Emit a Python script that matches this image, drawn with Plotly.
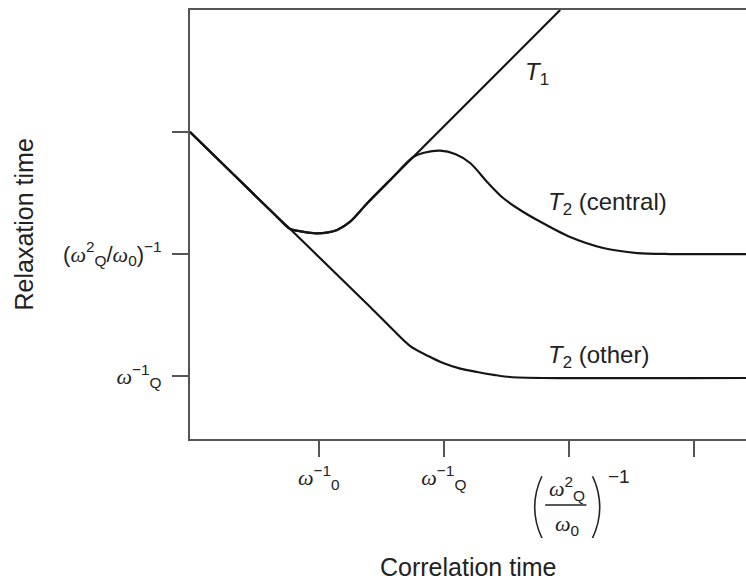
import plotly.graph_objects as go

# Relaxation time vs correlation time (log-log schematic, arbitrary log units)

# descending branch common to all three curves
shared_x = [-0.03, 0.372, 0.651, 0.771]
shared_y = [3.0, 2.598, 2.320, 2.205]

# dip and rise common to T1 and T2 (central)
rise_x = [0.867, 0.979, 1.075, 1.147, 1.251, 1.387, 1.571, 1.755]
rise_y = [2.184, 2.170, 2.178, 2.197, 2.265, 2.416, 2.607, 2.795]

# T1 keeps rising
t1_tail_x = [2.93]
t1_tail_y = [4.0]

# T2 (central): maximum, then plateau at (w_Q^2/w_0)^-1
t2c_tail_x = [1.850, 1.970, 2.090, 2.210, 2.354, 2.474, 2.610, 2.746, 3.010, 3.274, 3.546, 3.810, 4.416]
t2c_tail_y = [2.832, 2.847, 2.820, 2.746, 2.582, 2.459, 2.361, 2.279, 2.139, 2.049, 2.008, 2.0, 2.0]

# T2 (other): keeps falling, then plateau at w_Q^-1
t2o_tail_x = [1.091, 1.411, 1.595, 1.731, 1.875, 1.994, 2.131, 2.266, 2.410, 2.530, 2.794, 4.416]
t2o_tail_y = [1.885, 1.566, 1.377, 1.246, 1.164, 1.107, 1.061, 1.033, 1.008, 0.992, 0.984, 0.984]

x_ticks = [1, 2, 3, 4]
y_ticks = [1, 2, 3]

W = '<span style="font-family:\'Liberation Serif\';font-style:italic">ω</span>'
x_ticktext = [W + '<sup>−1</sup><sub>0</sub>', W + '<sup>−1</sup><sub>Q</sub>', '', '']
y_ticktext = [W + '<sup>−1</sup><sub>Q</sub>',
              '(' + W + '<sup>2</sup><sub>Q</sub>/' + W + '<sub>0</sub>)<sup>−1</sup>', '']

curves = {
    'T1': (shared_x + rise_x + t1_tail_x, shared_y + rise_y + t1_tail_y),
    'T2 (central)': (shared_x + rise_x + t2c_tail_x, shared_y + rise_y + t2c_tail_y),
    'T2 (other)': (shared_x + t2o_tail_x, shared_y + t2o_tail_y),
}

LINE = '#151515'
AXIS = '#555555'
TEXT = '#222222'
FONT = 'Liberation Sans, Arial, sans-serif'
TICK_SIZE = 22

fig = go.Figure()
for name, (xs, ys) in curves.items():
    fig.add_trace(go.Scatter(x=xs, y=ys, mode='lines', name=name,
                             line=dict(color=LINE, width=2.2, shape='spline', smoothing=0.8),
                             hoverinfo='skip'))

x_range = [-0.03, 4.416]
y_range = [0.484, 4.0]

fig.update_layout(
    width=746, height=582,
    margin=dict(l=190, r=0, t=10, b=143),
    plot_bgcolor='white', paper_bgcolor='white',
    showlegend=False,
    font=dict(family=FONT, size=TICK_SIZE, color=TEXT),
)
fig.update_xaxes(range=x_range, showline=True, linecolor=AXIS, linewidth=2, mirror=True,
                 ticks='outside', ticklen=16, tickwidth=1.5, tickcolor=AXIS,
                 tickvals=x_ticks, ticktext=x_ticktext, ticklabelstandoff=2,
                 tickfont=dict(size=TICK_SIZE),
                 showgrid=False, zeroline=False, fixedrange=True)
fig.update_yaxes(range=y_range, showline=True, linecolor=AXIS, linewidth=2,
                 ticks='outside', ticklen=16, tickwidth=1.5, tickcolor=AXIS,
                 tickvals=y_ticks, ticktext=y_ticktext, ticklabelstandoff=6,
                 tickfont=dict(size=TICK_SIZE),
                 showgrid=False, zeroline=False, fixedrange=True)

ann = []
# curve labels
LABEL = dict(size=24)
ann.append(dict(x=2.63, y=3.48, xref='x', yref='y', text='<i>T</i><sub>1</sub>',
                showarrow=False, xanchor='left', yanchor='middle', font=LABEL))
ann.append(dict(x=2.82, y=2.418, xref='x', yref='y', text='<i>T</i><sub>2</sub> (central)',
                showarrow=False, xanchor='left', yanchor='middle', font=LABEL))
ann.append(dict(x=2.82, y=1.164, xref='x', yref='y', text='<i>T</i><sub>2</sub> (other)',
                showarrow=False, xanchor='left', yanchor='middle', font=LABEL))

# third x tick label: (w_Q^2 / w_0)^-1 written as a fraction
fx = x_ticks[2]
PAREN = dict(family='DejaVu Sans ExtraLight, Inter', size=68, weight=100, color=TEXT)
ann.append(dict(x=fx, y=0, xref='x', yref='paper', yshift=-49, xshift=-2,
                text=W + '<sup>2</sup><sub>Q</sub>', borderpad=0,
                showarrow=False, xanchor='center', yanchor='middle'))
ann.append(dict(x=fx, y=0, xref='x', yref='paper', yshift=-86, xshift=-2,
                text=W + '<sub>0</sub>', borderpad=0,
                showarrow=False, xanchor='center', yanchor='middle'))
ann.append(dict(x=fx, y=0, xref='x', yref='paper', yshift=-65, xshift=-21, text='(',
                showarrow=False, xanchor='right', yanchor='middle', borderpad=0, font=PAREN))
ann.append(dict(x=fx, y=0, xref='x', yref='paper', yshift=-65, xshift=17, text=')',
                showarrow=False, xanchor='left', yanchor='middle', borderpad=0, font=PAREN))
ann.append(dict(x=fx, y=0, xref='x', yref='paper', yshift=-37, xshift=38, text='−1',
                showarrow=False, xanchor='left', yanchor='middle', borderpad=0,
                font=dict(size=19)))

# axis titles
ann.append(dict(x=0.5, y=0, xref='paper', yref='paper', yshift=-128, text='Correlation time',
                showarrow=False, xanchor='center', yanchor='middle', font=dict(size=25)))
ann.append(dict(x=0, y=0.5, xref='paper', yref='paper', xshift=-167, text='Relaxation time',
                showarrow=False, xanchor='center', yanchor='middle', textangle=-90,
                font=dict(size=25)))
fig.update_layout(annotations=ann)

# fraction bar
fig.add_shape(type='line', xref='x', yref='paper', x0=fx - 0.19, x1=fx + 0.14,
              y0=-66 / 429, y1=-66 / 429, line=dict(color=TEXT, width=1.3))

fig.write_html('out.html')
